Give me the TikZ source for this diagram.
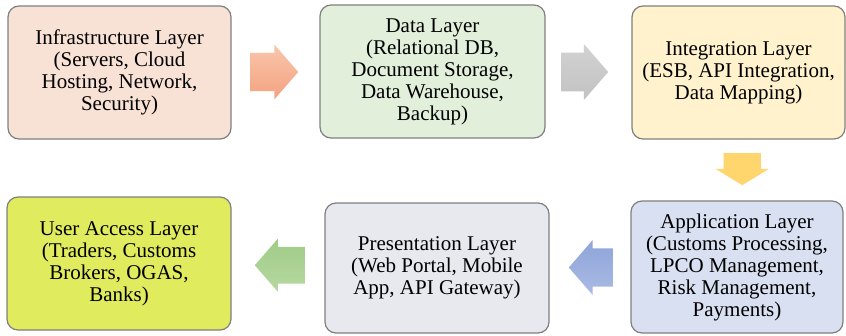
\documentclass[tikz,border=0pt]{standalone}
\usepackage{fontspec}
\setmainfont{Liberation Serif}
\usepackage{tikz}
\usetikzlibrary{shapes,shapes.arrows,calc}
\definecolor{peachF}{HTML}{F8E1D5}
\definecolor{mintF}{HTML}{E2EFDA}
\definecolor{creamF}{HTML}{FFF2CC}
\definecolor{skyF}{HTML}{D9E0F1}
\definecolor{mistF}{HTML}{E7E9EF}
\definecolor{limeF}{HTML}{E0EB5E}
\definecolor{boxLine}{HTML}{7F7F7F}
\definecolor{salmonT}{HTML}{F9C6AC}
\definecolor{salmonB}{HTML}{F3A27F}
\definecolor{greyT}{HTML}{D2D2D2}
\definecolor{greyB}{HTML}{C2C2C2}
\definecolor{goldF}{HTML}{FFD56E}
\definecolor{blueT}{HTML}{AABAE3}
\definecolor{blueB}{HTML}{8EA5DA}
\definecolor{leafT}{HTML}{B6D8A0}
\definecolor{leafB}{HTML}{A0CC88}
\tikzstyle{layerBox}=[rounded corners=11pt, draw=boxLine, line width=1.2pt, align=center, inner sep=0pt, font=\fontsize{21}{22}\selectfont]
\tikzstyle{blockArrow}=[single arrow, anchor=tail, inner xsep=0pt, inner ysep=16pt, minimum width=55pt, minimum height=48pt, single arrow tip angle=98, draw=none]

\begin{document}
\begin{tikzpicture}[x=1pt, y=-1pt]
      \useasboundingbox (0,0) rectangle (846,335);
      \node(infra) [layerBox, fill=peachF, minimum width=223pt, minimum height=133pt] at (119.5, 72.5){Infrastructure Layer\\(Servers, Cloud\\Hosting, Network,\\Security)};
      \node(data) [layerBox, fill=mintF, minimum width=225pt, minimum height=133pt] at (432.5, 71.5){Data Layer\\(Relational DB,\\Document Storage,\\Data Warehouse,\\Backup)};
      \node(integ) [layerBox, fill=creamF, minimum width=213pt, minimum height=133pt] at (738.5, 72.5){Integration Layer\\(ESB, API Integration,\\Data Mapping)};
      \node(app) [layerBox, fill=skyF, minimum width=212pt, minimum height=132pt] at (737, 267){Application Layer\\(Customs Processing,\\LPCO Management,\\Risk Management,\\Payments)};
      \node(pres) [layerBox, fill=mistF, minimum width=224pt, minimum height=130pt] at (437, 268){Presentation Layer\\(Web Portal, Mobile\\App, API Gateway)};
      \node(user) [layerBox, fill=limeF, minimum width=224pt, minimum height=133pt] at (119, 263.5){User Access Layer\\(Traders, Customs\\Brokers, OGAS,\\Banks)};
      % arrows between the layers (placed by their tails)
      \node(a1) [blockArrow, top color=salmonT, bottom color=salmonB] at ($(infra.east)!0.5!(data.west)+(-25.5,0)$){};
      \node(a2) [blockArrow, top color=greyT, bottom color=greyB, minimum height=47pt, minimum width=56pt] at ($(data.east)!0.5!(integ.west)+(-27.5,0)$){};
      \node(a3) [blockArrow, fill=goldF, rotate=270, inner ysep=16.5pt, minimum width=53pt, minimum height=32pt, single arrow tip angle=117] at ($(integ.south)!0.5!(app.north)+(4.5,-17)$){};
      \node(a4) [blockArrow, top color=blueB, bottom color=blueT, rotate=180, minimum height=44pt] at ($(app.west)!0.5!(pres.east)+(23,0)$){};
      \node(a5) [blockArrow, top color=leafB, bottom color=leafT, rotate=180, minimum height=50pt, minimum width=53pt] at ($(pres.west)!0.5!(user.east)+(27,-0.5)$){};
    \end{tikzpicture}
\end{document}
